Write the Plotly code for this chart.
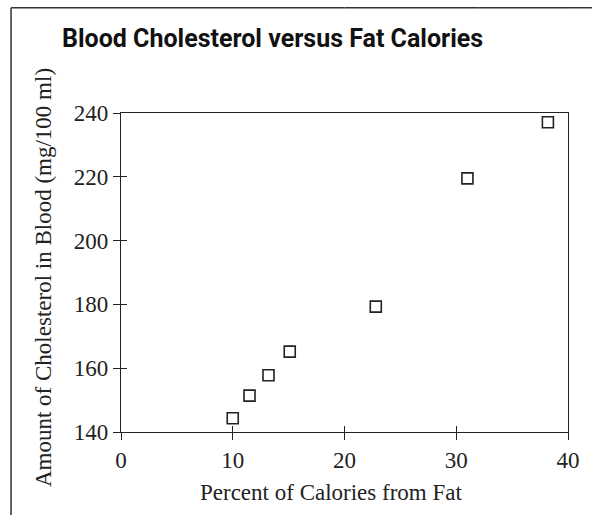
import plotly.graph_objects as go

# Data
fat_percent = [10.0, 11.5, 13.2, 15.1, 22.8, 31.0, 38.2]
cholesterol = [144.3, 151.4, 157.8, 165.2, 179.3, 219.5, 237.1]

x_ticks = [0, 10, 20, 30, 40]
y_ticks = [140, 160, 180, 200, 220, 240]

title_text = "Blood Cholesterol versus Fat Calories"
x_title = "Percent of Calories from Fat"
y_title = "Amount of Cholesterol in Blood (mg/100 ml)"

SERIF = "Liberation Serif, Times New Roman, serif"
INK = "#222222"

fig = go.Figure()
fig.add_trace(go.Scatter(
    x=fat_percent, y=cholesterol, mode="markers",
    marker=dict(symbol="square-open", size=11, color=INK, line=dict(width=1.6, color=INK)),
    showlegend=False, hoverinfo="x+y",
))
# invisible twin trace to host the inward-tick overlay axes
fig.add_trace(go.Scatter(
    x=fat_percent, y=cholesterol, mode="markers", xaxis="x2", yaxis="y2",
    marker=dict(opacity=0), showlegend=False, hoverinfo="skip",
))

axis_common = dict(showgrid=False, zeroline=False, linecolor=INK, linewidth=1.3,
                   tickcolor=INK, tickwidth=1.3, ticklen=7,
                   tickfont=dict(family=SERIF, size=23, color=INK))

frame = dict(color="#333333", width=1.5)
top_segments = [(-0.246, 0.5), (0.5, 0.8), (0.8, 1.0), (1.0, 1.0536)]

fig.update_layout(
    width=592, height=515,
    margin=dict(l=121, r=24, t=113, b=83),
    paper_bgcolor="white", plot_bgcolor="white",
    xaxis=dict(range=[0, 40], tickvals=x_ticks, ticks="outside", showline=True,
               mirror=True, fixedrange=True, **axis_common),
    yaxis=dict(range=[140, 240], tickvals=y_ticks, ticks="outside", showline=True,
               mirror=True, fixedrange=True, **axis_common),
    xaxis2=dict(range=[0, 40], tickvals=x_ticks, ticks="inside", overlaying="x",
                anchor="y2", side="bottom", showticklabels=False, showline=False,
                showgrid=False, zeroline=False, tickcolor=INK, tickwidth=1.3, ticklen=6,
                fixedrange=True),
    yaxis2=dict(range=[140, 240], tickvals=y_ticks, ticks="inside", overlaying="y",
                anchor="x2", side="left", showticklabels=False, showline=False,
                showgrid=False, zeroline=False, tickcolor=INK, tickwidth=1.3, ticklen=6,
                fixedrange=True),
    annotations=[
        dict(text="<b>" + title_text + "</b>", xref="paper", yref="paper",
             x=0.338, y=1.232, xanchor="center", yanchor="middle", showarrow=False,
             font=dict(family="Roboto, sans-serif", size=25, color="#111111")),
        dict(text=x_title, xref="paper", yref="paper", x=0.47, y=-0.19,
             xanchor="center", yanchor="middle", showarrow=False,
             font=dict(family=SERIF, size=23, color=INK)),
        dict(text=y_title, xref="paper", yref="paper", x=-0.172, y=0.483,
             xanchor="center", yanchor="middle", textangle=-90, showarrow=False,
             font=dict(family=SERIF, size=23, color=INK)),
    ],
    shapes=[
        dict(type="line", xref="paper", yref="paper", x0=-0.246, y0=-0.26, x1=-0.246, y1=1.33,
             line=frame),
    ] + [
        dict(type="line", xref="paper", yref="paper", x0=a, y0=1.33, x1=b, y1=1.33, line=frame)
        for a, b in top_segments
    ],
)

fig.write_html("out.html", config={"displayModeBar": False},
               post_script="document.body.style.margin='0';")
